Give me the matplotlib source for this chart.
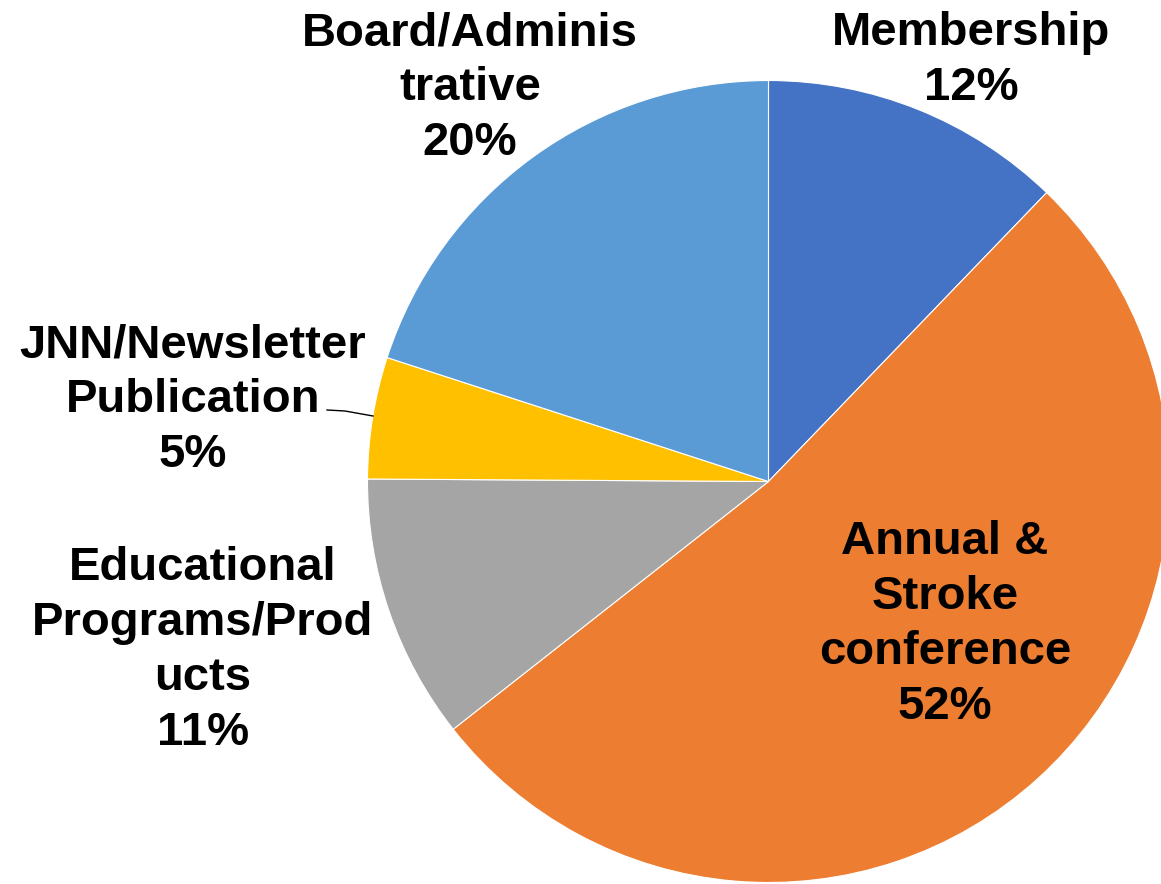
import matplotlib.pyplot as plt

# data
categories = ["Membership", "Annual &\nStroke\nconference", "Educational\nPrograms/Prod\nucts",
              "JNN/Newsletter\nPublication", "Board/Adminis\ntrative"]
shares = [12.2, 52.2, 10.7, 4.9, 20.0]
colors = ["#4472C4", "#ED7D31", "#A5A5A5", "#FFC000", "#5B9BD5"]

# label anchor points (reference pixels: x centre, last-line baseline)
label_pos = [(971, 100), (945, 719), (203, 745), (193, 467), (470, 155)]

W, H = 1161, 884
CX, CY, R = 768.5, 481.5, 401.0


def px(x, y):
    # reference pixel -> data coords (pie radius = 1)
    return (x - CX) / R, (CY - y) / R


fig = plt.figure(figsize=(W / 100, H / 100), dpi=100)
ax = fig.add_axes([0, 0, 1, 1])

ax.pie(shares, colors=colors, startangle=90, counterclock=False, radius=1,
       wedgeprops=dict(edgecolor="white", linewidth=0.8))

ax.set_xlim(-CX / R, (W - CX) / R)
ax.set_ylim(-(H - CY) / R, CY / R)
ax.axis("off")

total = sum(shares)
for name, val, (lx, ly) in zip(categories, shares, label_pos):
    x, y = px(lx, ly)
    ax.text(x, y, f"{name}\n{val / total * 100:.0f}%", ha="center", va="baseline",
            multialignment="center", fontsize=34, fontweight="bold",
            family="Liberation Sans", color="black", linespacing=1.32)

# leader line for the small JNN slice
lx, ly = zip(*[px(327, 410), px(345, 411), px(373, 416)])
ax.plot(lx, ly, color="black", linewidth=1.0)

plt.savefig("out.png", dpi=100)
plt.close()
